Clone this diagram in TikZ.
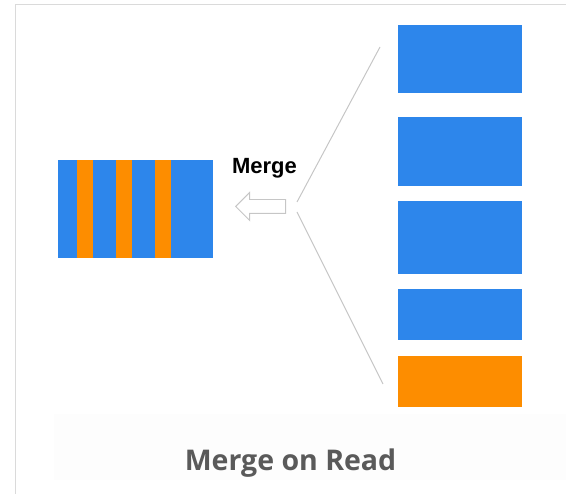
\documentclass[tikz,border=0pt]{standalone}
\usepackage{fontspec}
\setmainfont{Liberation Sans}
\newfontfamily\titlefont{Open Sans}
\usetikzlibrary{shapes.arrows}

\definecolor{segblue}{HTML}{2D86EB}
\definecolor{segorange}{HTML}{FD8D00}
\definecolor{fangray}{HTML}{C6C6C6}
\definecolor{titlegray}{HTML}{5A5A5A}
\definecolor{framegray}{HTML}{DADADA}
\definecolor{bandgray}{HTML}{FDFDFD}

\begin{document}
\begin{tikzpicture}[x=1pt,y=-1pt,
	seg/.style={shape=rectangle,inner sep=0pt,outer sep=0pt,minimum width=124pt},
	stripe/.style={shape=rectangle,fill=segorange,inner sep=0pt,outer sep=0pt,minimum width=16pt,minimum height=98pt},
	fan/.style={draw=fangray,line width=1pt}]
	\useasboundingbox (0,0) rectangle (566,494);
	\fill[bandgray] (54,414) rectangle (566,480);
	\draw[framegray,line width=0.8pt] (15,494) |- (566,4);

	% segments to be merged
	\draw (460,59) node (segA) [seg,fill=segblue,minimum height=68pt] {};
	\draw (460,151.5) node (segB) [seg,fill=segblue,minimum height=69pt] {};
	\draw (460,237.5) node (segC) [seg,fill=segblue,minimum height=73pt] {};
	\draw (460,314.5) node (segD) [seg,fill=segblue,minimum height=51pt] {};
	\draw (460,381.5) node (segE) [seg,fill=segorange,minimum height=51pt] {};

	% merged result
	\draw (135.5,209) node (merged) [shape=rectangle,fill=segblue,inner sep=0pt,minimum width=155pt,minimum height=98pt] {};
	\foreach \sx [count=\i] in {85,124,163}
		\draw (\sx,209) node (stripe\i) [stripe] {};

	\draw (264.5,174) node (mergelabel) [anchor=base,inner sep=0pt,font=\fontsize{22}{26}\selectfont\bfseries] {Merge};
	\draw (235,206.5) node (mergearrow) [shape=single arrow,shape border rotate=180,anchor=tip,draw=fangray,line width=0.9pt,
		minimum height=50pt,inner xsep=0pt,inner ysep=6.5pt,single arrow head extend=7pt,single arrow head indent=0pt] {};

	\coordinate (fanup) at (297,202);
	\coordinate (fandown) at (297,212);
	\coordinate (fanA) at (380,47);
	\coordinate (fanE) at (383,384);
	\draw[fan] (fanup) -- (fanA);
	\draw[fan] (fandown) -- (fanE);

	\draw (290.5,471) node (title) [anchor=base,inner sep=0pt,text=titlegray,font=\titlefont\bfseries\fontsize{28.5}{32}\selectfont] {Merge on Read};
\end{tikzpicture}
\end{document}
